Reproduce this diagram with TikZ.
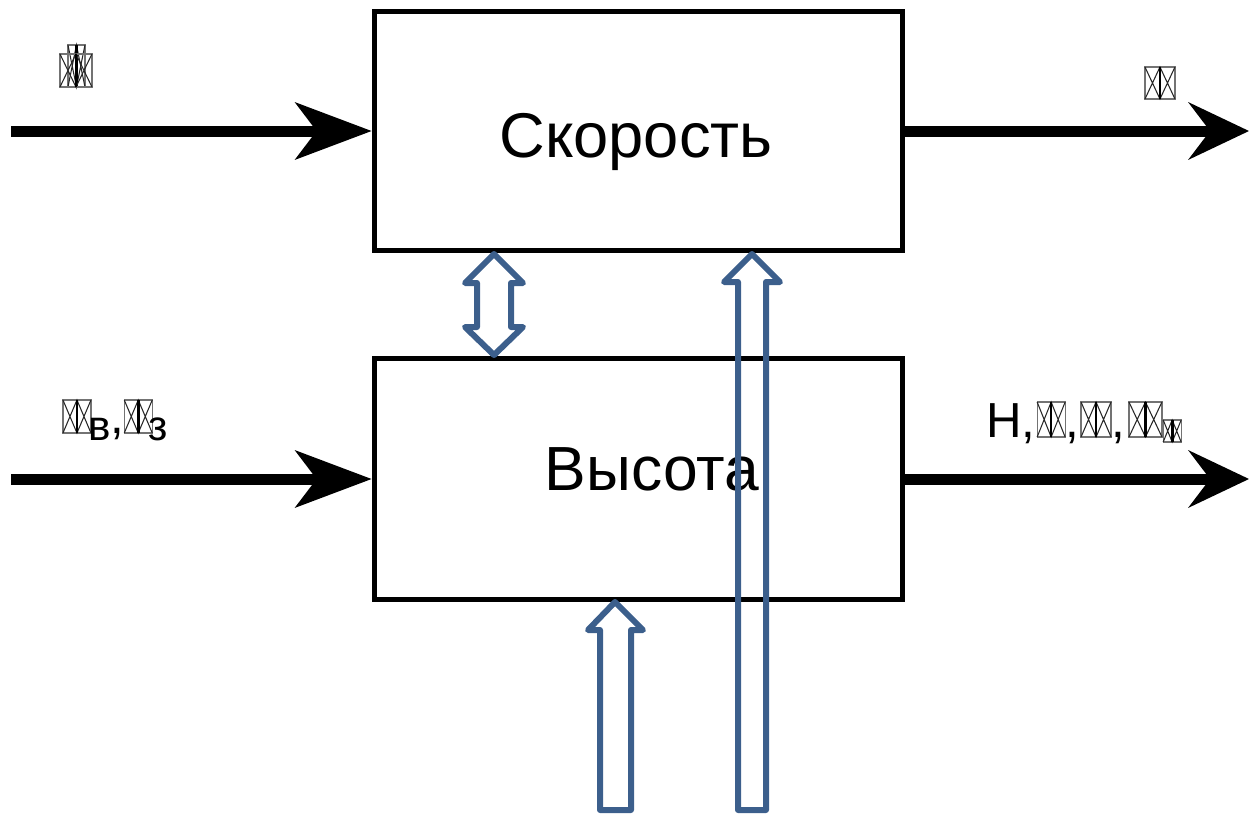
\documentclass[tikz,border=0pt]{standalone}
\usepackage{fontspec}
\setmainfont{Liberation Sans}
\usetikzlibrary{arrows.meta}
\definecolor{flowblue}{RGB}{60,95,140}
% glyph box: width, height
\newcommand{\nog}[2]{\tikz[baseline=0pt,x=0.02cm,y=0.02cm]{%
\draw[black!55,line width=0.7pt] (0,0) rectangle (#1,#2);
\draw[black!85,line width=0.6pt] (0,#2) -- (#1/2,0) -- (#1,#2) (0,0) -- (#1/2,#2) -- (#1,0);
\draw[line width=1.5pt] (#1/2,0) -- (#1/2,#2);}}

\begin{document}
\begin{tikzpicture}[x=0.02cm,y=-0.02cm,
 block/.style={draw,line width=0.1cm,minimum width=10.58cm,minimum height=4.8cm},
 flow/.style={line width=0.22cm,-{Stealth[length=#1,width=1.16cm,inset=0.44cm,line width=0pt]}},
 flow/.default=1.54cm,
 hollow/.style={draw=flowblue,line width=0.12cm,line join=round},
 lbl/.style={inner sep=0,anchor=base west,font=\fontsize{28}{30}\selectfont}]
\useasboundingbox (0,0) rectangle (1249,815);
\node[block] (speed) at (638.5,131) {};
\node[block,minimum height=4.84cm] (alt) at (638.5,479) {};
\node[inner sep=0,anchor=base,font=\fontsize{36}{40}\selectfont] (speedtxt) at (636,157) {Скорость};
\node[inner sep=0,anchor=base,font=\fontsize{35.5}{40}\selectfont] (alttxt) at (652,490) {Высота};
\draw[flow] (11,131) -- (speed.west);
\draw[flow=1.22cm] (speed.east) -- (1249,131);
\draw[flow] (11,479) -- (alt.west);
\draw[flow=1.22cm] (alt.east) -- (1249,479);
\node[lbl] (inV) at (59,87) {\rlap{\hspace{0.16cm}\nog{17}{42}}\nog{32}{33}};
\node[lbl] (outV) at (1144,99) {\nog{30}{32}};
\node[lbl] (inH) at (62,433) {\nog{28}{33}\hspace{-0.06cm}\raisebox{-0.14cm}{\fontsize{24}{26}\selectfont в},\hspace{-0.02cm}\nog{28}{33}\hspace{-0.08cm}\raisebox{-0.14cm}{\fontsize{24}{26}\selectfont з}};
\node[lbl] (outH) at (986,437) {H,\hspace{0.02cm}\nog{28}{35},\hspace{0.02cm}\nog{30}{35},\hspace{0.06cm}\nog{33}{35}\raisebox{-0.1cm}{\nog{18}{22}}};
% block arrows
\draw[hollow] (494,254) -- (523,283) -- (511,283) -- (511,327) -- (523,327) -- (494,355)
 -- (465,327) -- (477,327) -- (477,283) -- (465,283) -- cycle;
\draw[hollow] (752,254) -- (780,282) -- (766,282) -- (766,810) -- (738,810) -- (738,282)
 -- (724,282) -- cycle;
\draw[hollow] (615,602) -- (643,630) -- (631,630) -- (631,810) -- (600,810) -- (600,630)
 -- (588,630) -- cycle;
\end{tikzpicture}
\end{document}
